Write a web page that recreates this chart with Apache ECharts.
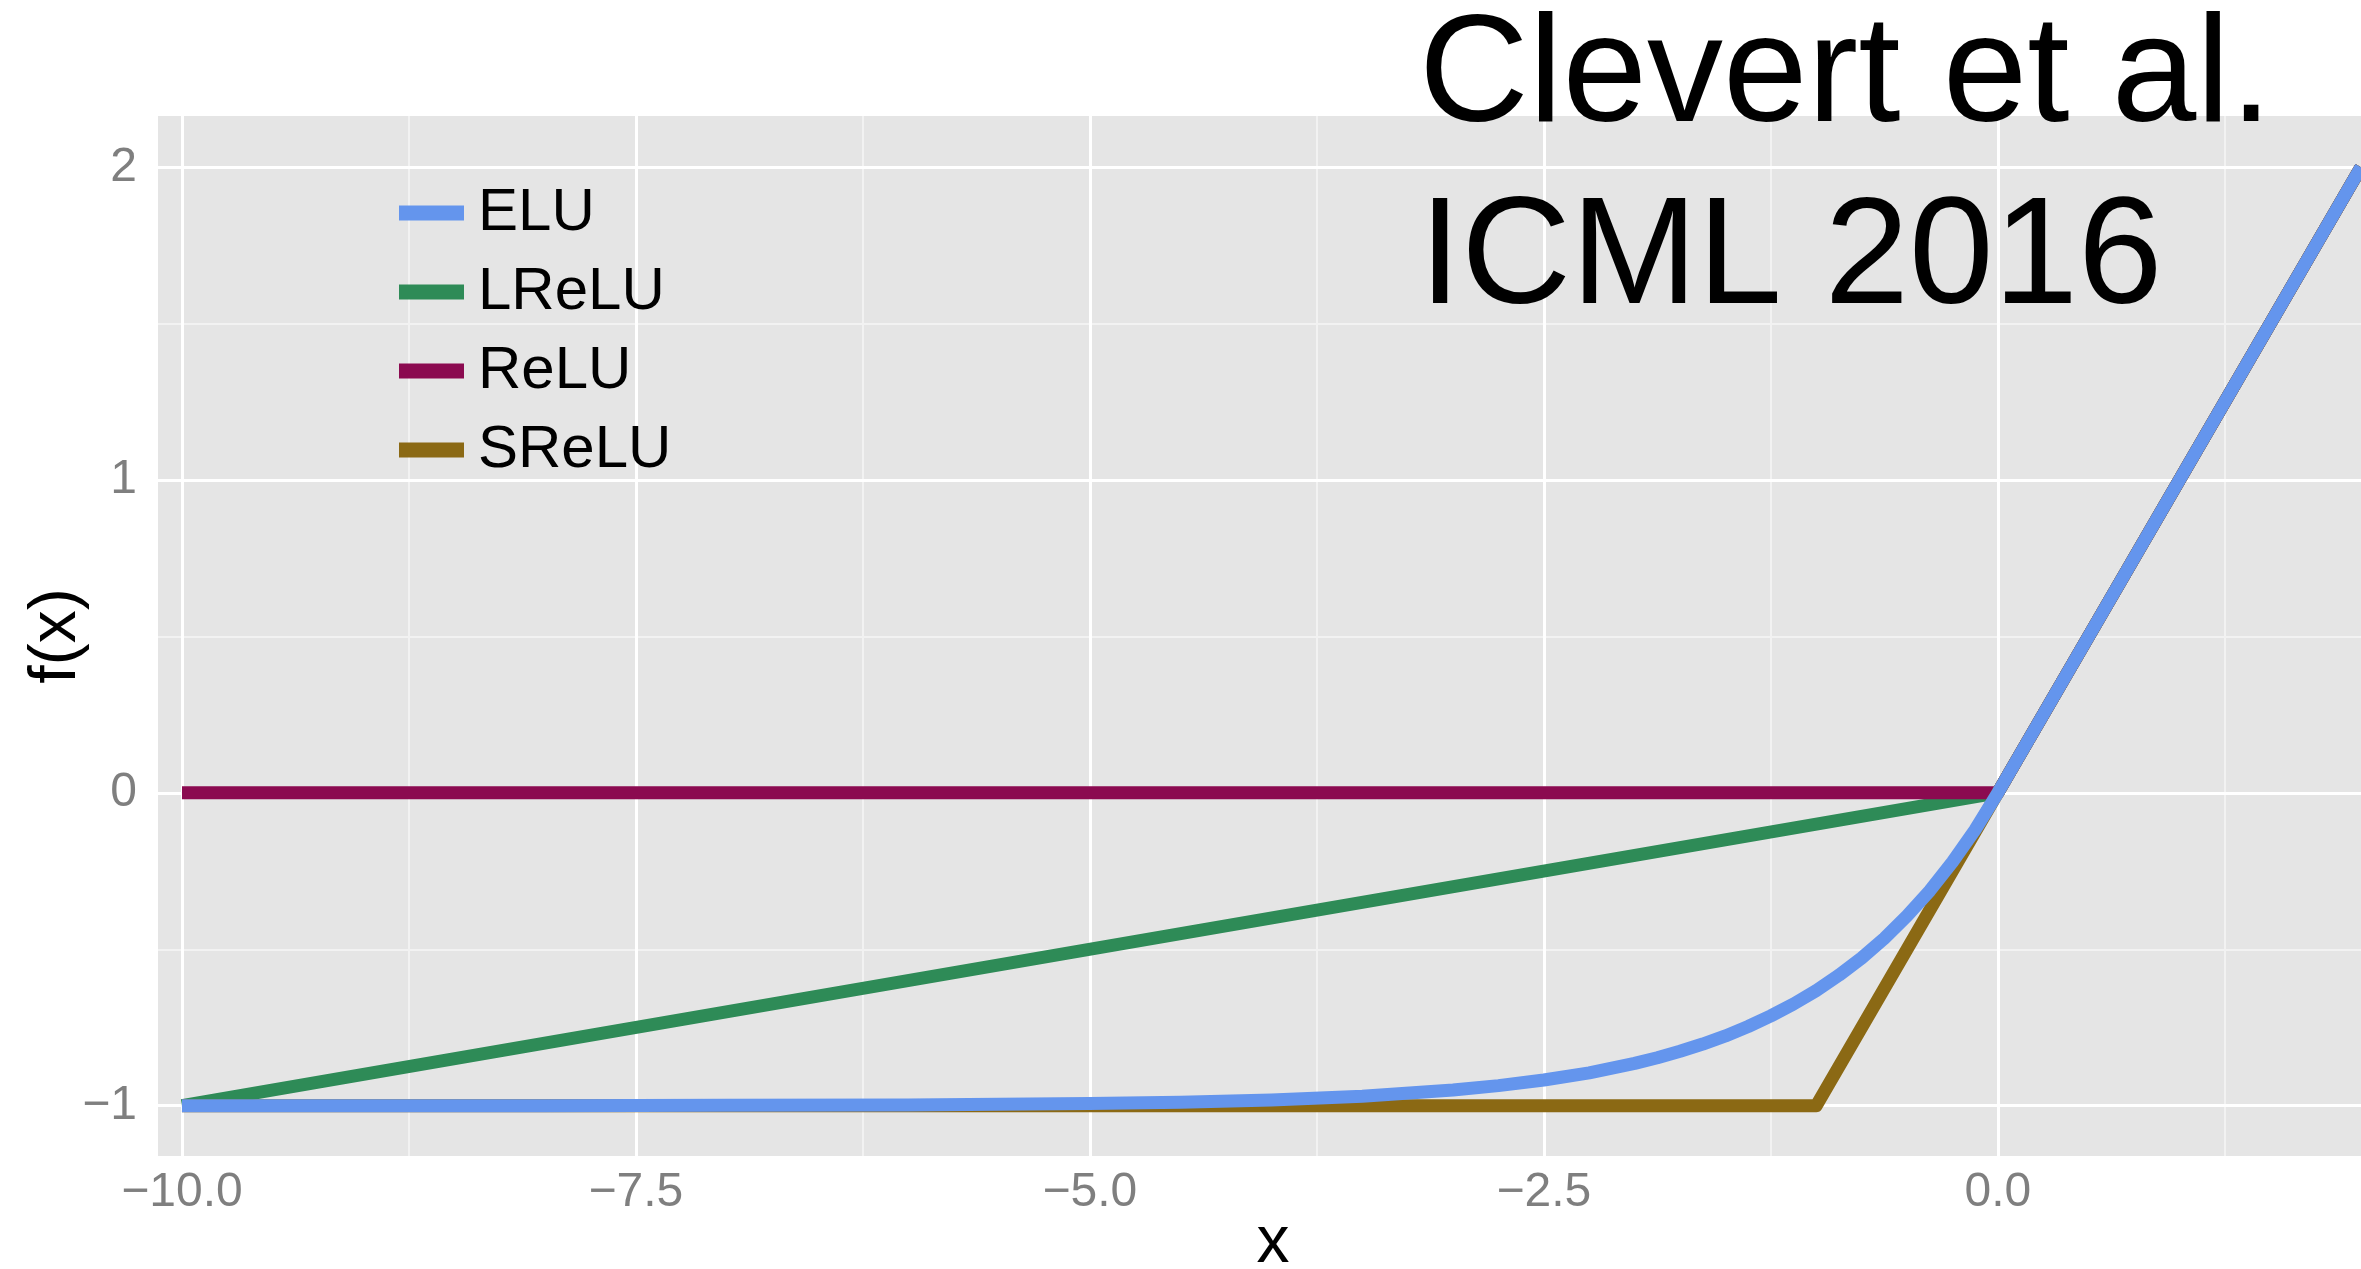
<!DOCTYPE html>
<html>
<head>
<meta charset="utf-8">
<script src="https://cdn.jsdelivr.net/npm/echarts@6/dist/echarts.min.js"></script>
<style>
  html, body { margin: 0; padding: 0; background: #ffffff; }
  #chart { width: 2361px; height: 1269px; }
</style>
</head>
<body>
<div id="chart"></div>
<script>
// ---- data ----
const seriesNames = ['ELU', 'LReLU', 'ReLU', 'SReLU'];
const seriesColors = ['#6495ED', '#2E8B57', '#8B0A50', '#8B6914'];

const eluX = [-10, -9, -8, -7, -6, -5, -4.5, -4, -3.5, -3, -2.75, -2.5, -2.25, -2, -1.875, -1.75, -1.625, -1.5, -1.375, -1.25, -1.125, -1, -0.875, -0.75, -0.625, -0.5, -0.375, -0.25, -0.125, 0, 1, 2];
const eluY = [-1.0, -1.0, -1.0, -0.999, -0.998, -0.993, -0.989, -0.982, -0.97, -0.95, -0.936, -0.918, -0.895, -0.865, -0.847, -0.826, -0.803, -0.777, -0.747, -0.713, -0.675, -0.632, -0.583, -0.528, -0.465, -0.393, -0.313, -0.221, -0.118, 0, 1, 2];

const lreluX = [-10, 0, 2];
const lreluY = [-1, 0, 2];

const reluX = [-10, 0, 2];
const reluY = [0, 0, 2];

const sreluX = [-10, -1, 0, 2];
const sreluY = [-1, -1, 0, 2];

const xTicks = [-10, -7.5, -5, -2.5, 0];
const xTickLabels = ['\u221210.0', '\u22127.5', '\u22125.0', '\u22122.5', '0.0'];
const xMinor = [-8.75, -6.25, -3.75, -1.25, 1.25];
const yTicks = [-1, 0, 1, 2];
const yTickLabels = ['\u22121', '0', '1', '2'];
const yMinor = [-0.5, 0.5, 1.5];

const titleLines = ['Clevert et al.', 'ICML 2016'];
const xName = 'x';
const yName = 'f(x)';

// ---- build ----
const FONT = "'Liberation Sans', Arial, sans-serif";
const pairs = (xs, ys) => xs.map((x, i) => [x, ys[i]]);

const gridLines = [];
xMinor.forEach(v => gridLines.push({ xAxis: v, lineStyle: { color: '#F2F2F2', width: 2, type: 'solid' } }));
yMinor.forEach(v => gridLines.push({ yAxis: v, lineStyle: { color: '#F2F2F2', width: 2, type: 'solid' } }));
xTicks.forEach(v => gridLines.push({ xAxis: v, lineStyle: { color: '#FFFFFF', width: 3, type: 'solid' } }));
yTicks.forEach(v => gridLines.push({ yAxis: v, lineStyle: { color: '#FFFFFF', width: 3, type: 'solid' } }));

function lineSeries(name, data) {
  const idx = seriesNames.indexOf(name);
  return {
    name: name,
    type: 'line',
    data: data,
    showSymbol: false,
    symbol: 'none',
    smooth: false,
    z: 3,
    lineStyle: { color: seriesColors[idx], width: 13, cap: 'butt', join: 'round' },
    itemStyle: { color: seriesColors[idx] },
    emphasis: { disabled: true }
  };
}

const chart = echarts.init(document.getElementById('chart'), null, { renderer: 'canvas' });
chart.setOption({
  animation: false,
  backgroundColor: '#ffffff',
  title: {
    text: titleLines.join('\n'),
    left: 1419,
    top: -12,
    padding: 0,
    textStyle: {
      fontFamily: FONT,
      fontSize: 152,
      fontWeight: 'normal',
      color: '#000000',
      lineHeight: 182
    }
  },
  legend: {
    data: seriesNames,
    orient: 'vertical',
    left: 394,
    top: 176,
    icon: 'rect',
    itemWidth: 65,
    itemHeight: 15,
    itemGap: 15,
    selectedMode: false,
    textStyle: {
      fontFamily: FONT,
      fontSize: 60,
      color: '#000000',
      lineHeight: 64,
      padding: [0, 0, 0, 9]
    }
  },
  grid: {
    left: 158,
    top: 116,
    right: 0,
    bottom: 113,
    show: true,
    backgroundColor: '#E5E5E5',
    borderWidth: 0,
    containLabel: false,
    outerBoundsMode: 'none'
  },
  xAxis: {
    type: 'value',
    min: -10.132,
    max: 2.0,
    name: xName,
    nameLocation: 'middle',
    nameGap: 55,
    nameMoveOverlap: false,
    nameTextStyle: { fontFamily: FONT, fontSize: 66, color: '#000000', padding: [0, 0, 0, 27] },
    axisLine: { show: false },
    axisTick: { show: true, length: 13, lineStyle: { color: '#7F7F7F', width: 3 }, customValues: xTicks },
    axisLabel: {
      customValues: xTicks,
      margin: 13,
      fontFamily: FONT,
      fontSize: 48,
      color: '#7F7F7F',
      formatter: v => xTickLabels[xTicks.indexOf(v)]
    },
    splitLine: { show: false },
    minorSplitLine: { show: false }
  },
  yAxis: {
    type: 'value',
    min: -1.161,
    max: 2.164,
    name: yName,
    nameLocation: 'middle',
    nameGap: 68,
    nameRotate: 90,
    nameMoveOverlap: false,
    nameTextStyle: { fontFamily: FONT, fontSize: 66, color: '#000000' },
    axisLine: { show: false },
    axisTick: { show: true, length: 14, lineStyle: { color: '#7F7F7F', width: 3 }, customValues: yTicks },
    axisLabel: {
      customValues: yTicks,
      margin: 21,
      fontFamily: FONT,
      fontSize: 48,
      color: '#7F7F7F',
      formatter: v => yTickLabels[yTicks.indexOf(v)]
    },
    splitLine: { show: false }
  },
  series: [
    {
      name: '_grid',
      type: 'line',
      data: [],
      z: 1,
      silent: true,
      markLine: {
        silent: true,
        symbol: ['none', 'none'],
        label: { show: false },
        animation: false,
        z: 1,
        emphasis: { disabled: true },
        data: gridLines
      }
    },
    lineSeries('LReLU', pairs(lreluX, lreluY)),
    lineSeries('ReLU', pairs(reluX, reluY)),
    lineSeries('SReLU', pairs(sreluX, sreluY)),
    lineSeries('ELU', pairs(eluX, eluY))
  ]
});
</script>
</body>
</html>
